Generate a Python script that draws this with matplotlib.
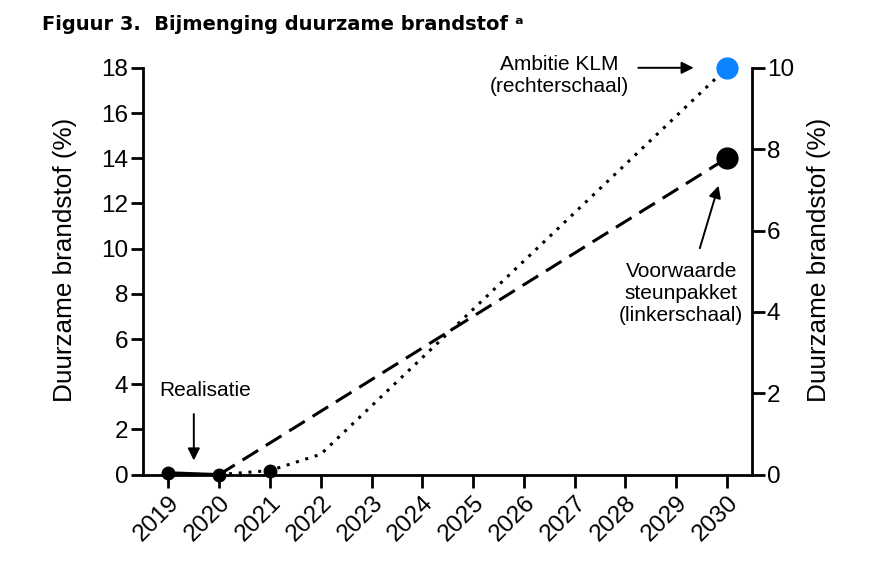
import numpy as np
import matplotlib.pyplot as plt

plt.rcParams['font.family'] = ['Liberation Sans', 'DejaVu Sans']

years = list(range(2019, 2031))

# realisatie (linkerschaal)
real_years = [2019, 2020]
real_vals = [0.08, 0.0]

# voorwaarde steunpakket (linkerschaal)
steun_years = [2020, 2030]
steun_vals = [0.0, 14.0]

# ambitie KLM (rechterschaal)
klm_years = [2020, 2021, 2022, 2030]
klm_vals = [0.0, 0.1, 0.5, 10.0]

INK = "black"
BLUE = "#0a84ff"

fig = plt.figure(figsize=(8.83, 5.65), dpi=100)
ax = fig.add_axes([0.162, 0.160, 0.690, 0.720])
ax2 = ax.twinx()

ax.set_xlim(2018.5, 2030.5)
ax.set_ylim(0, 18)
ax2.set_ylim(0, 10)

# lines
ax.plot(steun_years, steun_vals, color=INK, lw=2.2, ls=(0, (6, 3)), zorder=2)
ax.plot(steun_years[-1], steun_vals[-1], "o", color=INK, ms=15, zorder=4,
        clip_on=False)
ax.plot(real_years, real_vals, "-o", color=INK, lw=2.2, ms=9, zorder=4,
        clip_on=False)

ax2.plot(klm_years, klm_vals, color=INK, lw=2.2, ls=(0, (1, 2.2)), zorder=2)
ax2.plot(klm_years[1], klm_vals[1], "o", color=INK, ms=9, zorder=4,
         clip_on=False)
ax2.plot(klm_years[-1], klm_vals[-1], "o", color=BLUE, ms=15, zorder=4,
         clip_on=False)

# axes styling
for a in (ax, ax2):
    for s in a.spines.values():
        s.set_linewidth(2)
    a.spines['top'].set_visible(False)
ax.spines['right'].set_visible(False)
ax2.spines['left'].set_visible(False)
ax2.spines['bottom'].set_visible(False)

ax.set_xticks(years)
ax.set_xticklabels([str(y) for y in years], rotation=45, ha='right',
                   rotation_mode='anchor', fontsize=17)
ax.set_yticks(range(0, 19, 2))
ax2.set_yticks(range(0, 11, 2))
ax.tick_params(axis='both', width=2, length=9, labelsize=17.5, direction='out')
ax.tick_params(axis='y', pad=1.5)
ax2.tick_params(axis='y', width=2, length=9, labelsize=17.5, direction='out',
                pad=1.5)

ax.set_ylabel("Duurzame brandstof (%)", fontsize=18.8)
ax2.set_ylabel("Duurzame brandstof (%)", fontsize=18.8)
ax.yaxis.set_label_coords(-0.108, 0.527)
ax2.yaxis.set_label_coords(1.090, 0.527)

# annotations
arrow = dict(arrowstyle="-|>", color=INK, lw=1.4, mutation_scale=18)
ax.annotate("", xy=(2019.5, 0.5), xytext=(2019.5, 2.8), arrowprops=arrow)
ax.text(2019.72, 3.3, "Realisatie", ha='center', va='bottom', fontsize=15)

ax2.annotate("", xy=(2029.4, 10.0), xytext=(2028.2, 10.0), arrowprops=arrow)
ax2.text(2026.7, 9.8, "Ambitie KLM\n(rechterschaal)", ha='center', va='center',
         fontsize=15, linespacing=1.2)

ax.annotate("", xy=(2029.85, 12.9), xytext=(2029.45, 9.9), arrowprops=arrow)
ax.text(2029.1, 8.0, "Voorwaarde\nsteunpakket\n(linkerschaal)", ha='center',
        va='center', fontsize=15, linespacing=1.2)

fig.text(0.047, 0.957, "Figuur 3.  Bijmenging duurzame brandstof ᵃ",
         fontsize=14, fontweight='bold', family='DejaVu Sans', va='center')

fig.savefig("out.png", dpi=100)
